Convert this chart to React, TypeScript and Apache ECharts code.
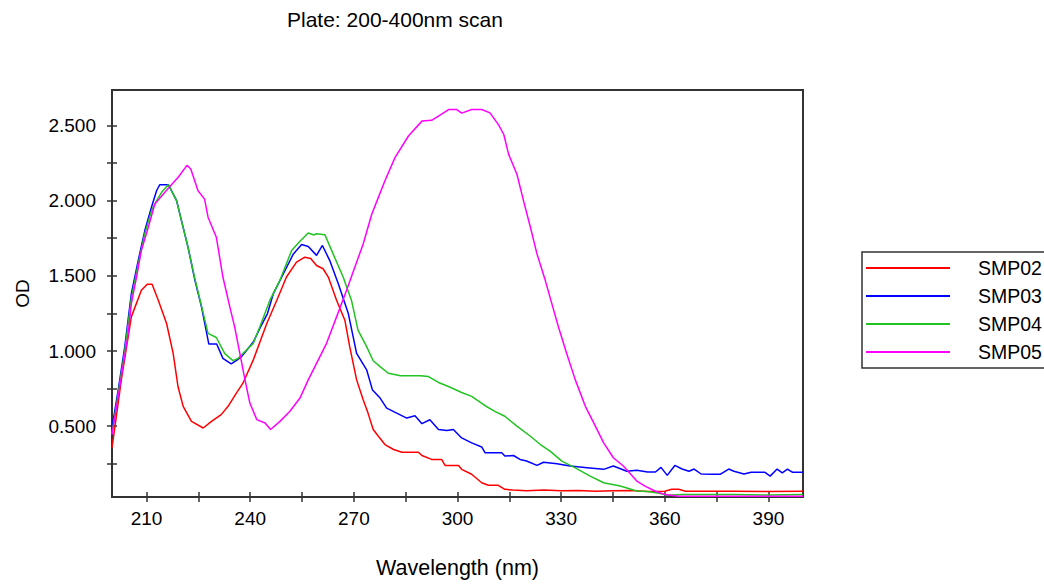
import React, { useEffect, useRef } from "react";
import * as echarts from "echarts";

const titleText = "Plate: 200-400nm scan";
const xName = "Wavelength (nm)";
const yName = "OD";
const seriesNames = ["SMP02", "SMP03", "SMP04", "SMP05"];
const seriesColors = ["#ff0000", "#0000ff", "#22c322", "#ff00ff"];

const xTicks = [210, 225, 240, 255, 270, 285, 300, 315, 330, 345, 360, 375, 390];
const xLabels = [210, 240, 270, 300, 330, 360, 390];
const yTicks = [0.25, 0.5, 0.75, 1.0, 1.25, 1.5, 1.75, 2.0, 2.25, 2.5];
const yLabels = [0.5, 1.0, 1.5, 2.0, 2.5];

const smp02: [number, number][] = [
  [200, 0.356], [202.7, 0.808], [205.6, 1.227], [208.5, 1.404], [210.2, 1.444], [211.6, 1.444],
  [213.4, 1.338], [215.8, 1.183], [217.7, 0.984], [219.1, 0.764], [220.6, 0.632], [223, 0.532],
  [226.4, 0.488], [228.8, 0.532], [231.6, 0.577], [233.6, 0.632], [236, 0.72], [237.9, 0.786],
  [240.9, 0.941], [244.8, 1.183], [247.7, 1.338], [250.5, 1.492], [253.4, 1.591], [255.8, 1.624],
  [257.5, 1.615], [259.2, 1.569], [261.1, 1.547], [262.6, 1.492], [265, 1.338], [267.4, 1.205],
  [268.8, 1.029], [270.8, 0.808], [272.7, 0.676], [274.1, 0.587], [275.6, 0.478], [277.1, 0.433],
  [279, 0.378], [281.5, 0.345], [283.9, 0.327], [288.7, 0.327], [289.7, 0.305], [292.5, 0.279],
  [295.4, 0.279], [296.4, 0.239], [300.3, 0.239], [301.2, 0.213], [304.1, 0.18], [307, 0.124],
  [308.9, 0.107], [311.8, 0.107], [313.7, 0.08], [316, 0.075], [320, 0.07], [325, 0.075],
  [330, 0.07], [335, 0.072], [340, 0.068], [345, 0.07], [350, 0.072], [355, 0.065], [360, 0.067],
  [362, 0.08], [364, 0.08], [366, 0.067], [380, 0.067], [390, 0.065], [400, 0.067],
];

const smp03: [number, number][] = [
  [200, 0.49], [201.8, 0.742], [203.7, 1.029], [205.6, 1.382], [207.6, 1.603], [209.5, 1.801],
  [211.4, 1.955], [212.9, 2.066], [213.8, 2.106], [216.3, 2.106], [218.7, 2.0], [220.1, 1.867],
  [222, 1.691], [224, 1.47], [225.9, 1.294], [227.8, 1.073], [228, 1.047], [230.3, 1.047],
  [232.1, 0.951], [234.5, 0.914], [236.5, 0.945], [237.5, 0.963], [240.9, 1.06], [243, 1.16],
  [245, 1.249], [246.7, 1.382], [249.6, 1.514], [252.5, 1.646], [254.9, 1.708], [256.8, 1.695],
  [259.2, 1.636], [260.9, 1.702], [263, 1.603], [265.5, 1.448], [268.4, 1.249], [270.8, 0.984],
  [273.7, 0.875], [275.4, 0.74], [277.6, 0.687], [279.5, 0.62], [282.4, 0.587], [285.3, 0.554],
  [287.7, 0.569], [289.7, 0.517], [292, 0.543], [294.5, 0.478], [296.9, 0.472], [298.8, 0.478],
  [301.2, 0.422], [304.1, 0.389], [307, 0.362], [308, 0.323], [312.8, 0.323], [313.7, 0.301],
  [316.2, 0.305], [318.1, 0.279], [320, 0.268], [323, 0.239], [324.9, 0.26], [328.8, 0.25],
  [332.6, 0.235], [337.5, 0.224], [342.3, 0.213], [345.1, 0.235], [349, 0.2], [351.9, 0.207],
  [355, 0.195], [357.3, 0.195], [358.9, 0.226], [360.7, 0.173], [362.9, 0.239], [365, 0.215],
  [367, 0.2], [368.5, 0.215], [370.5, 0.182], [374, 0.18], [376, 0.18], [378.5, 0.215],
  [380, 0.2], [382.9, 0.182], [385, 0.193], [389, 0.193], [390.5, 0.168], [392.5, 0.215],
  [394, 0.19], [395.5, 0.215], [397, 0.193], [400, 0.193],
];

const smp04: [number, number][] = [
  [200, 0.45], [201.8, 0.72], [203.7, 1.0], [205.6, 1.35], [207.6, 1.58], [209.5, 1.78],
  [211.4, 1.93], [212.9, 2.0], [214.5, 2.06], [216.3, 2.106], [218.7, 2.0], [220.1, 1.867],
  [222, 1.69], [224, 1.48], [225.9, 1.3], [227.8, 1.117], [230.2, 1.09], [232.6, 0.984],
  [235, 0.936], [236.5, 0.951], [237.9, 0.984], [240.9, 1.051], [242.8, 1.161], [245.7, 1.338],
  [248.6, 1.47], [252, 1.669], [254.4, 1.73], [256.8, 1.785], [258.5, 1.772], [259.2, 1.78],
  [261.6, 1.774], [264, 1.646], [266.9, 1.492], [269.3, 1.338], [271.2, 1.139], [273.7, 1.029],
  [275.6, 0.935], [277.6, 0.896], [280, 0.852], [283.5, 0.835], [289.3, 0.835], [291.6, 0.83],
  [294.5, 0.791], [297.4, 0.764], [301.2, 0.724], [304.1, 0.698], [308, 0.636], [310.8, 0.599],
  [313.7, 0.566], [317.2, 0.5], [321.1, 0.433], [324, 0.378], [326.8, 0.334], [330.2, 0.268],
  [334.1, 0.223], [338.4, 0.168], [342.3, 0.124], [347.1, 0.102], [351.9, 0.069], [355, 0.065],
  [358, 0.056], [361, 0.04], [365, 0.045], [380, 0.045], [390, 0.042], [400, 0.045],
];

const smp05: [number, number][] = [
  [200, 0.444], [202.7, 0.83], [204.7, 1.117], [205.6, 1.315], [207.1, 1.492], [208.5, 1.669],
  [210.5, 1.823], [212.4, 1.977], [214.8, 2.043], [217.2, 2.106], [219.1, 2.154], [221.7, 2.235],
  [222.8, 2.21], [224.9, 2.066], [226.8, 2.01], [227.8, 1.89], [230.2, 1.757], [232.1, 1.492],
  [234.1, 1.294], [235.5, 1.161], [237, 0.984], [238.5, 0.808], [239.9, 0.654], [241.9, 0.544],
  [244.3, 0.521], [245.9, 0.478], [248.6, 0.532], [251.5, 0.599], [254.4, 0.687], [256.8, 0.808],
  [259.2, 0.918], [262.1, 1.051], [265, 1.227], [267.9, 1.404], [270.3, 1.558], [272.7, 1.712],
  [275.2, 1.911], [277.1, 2.022], [279, 2.132], [281.9, 2.286], [285.8, 2.43], [289.7, 2.529],
  [292.5, 2.534], [294.5, 2.562], [297.4, 2.606], [299.8, 2.606], [301.2, 2.582], [304.1, 2.606],
  [307, 2.606], [309.4, 2.584], [311.8, 2.507], [313.4, 2.44], [314.8, 2.308], [317.2, 2.176],
  [319.1, 2.0], [321.1, 1.823], [323, 1.646], [325.4, 1.47], [327.3, 1.315], [329.2, 1.161],
  [331.6, 0.984], [334.1, 0.808], [337, 0.632], [339.9, 0.5], [342.3, 0.389], [345.1, 0.29],
  [348, 0.235], [351.9, 0.135], [354.4, 0.1], [357.3, 0.067], [360.2, 0.045], [364, 0.034],
  [400, 0.034],
];

const seriesData = [smp02, smp03, smp04, smp05];

const FONT = "Liberation Sans, Arial, sans-serif";

export default function App() {
  const ref = useRef<HTMLDivElement>(null);
  useEffect(() => {
    document.body.style.margin = "0";
    const chart = echarts.init(ref.current!, null, { renderer: "svg" });
    const axisColor = "#333";
    const baseX = {
      type: "value",
      min: 200,
      max: 400,
      position: "bottom",
      splitLine: { show: false },
    };
    const baseY = {
      type: "value",
      min: 0.029,
      max: 2.736,
      position: "left",
      splitLine: { show: false },
    };
    chart.setOption({
      animation: false,
      backgroundColor: "#fff",
      title: {
        text: titleText,
        left: 287,
        top: 9,
        padding: 0,
        textStyle: { fontFamily: FONT, fontSize: 21, fontWeight: "normal", color: "#000" },
      },
      grid: {
        left: 112,
        right: 241,
        top: 90,
        bottom: 85,
        show: true,
        borderColor: axisColor,
        borderWidth: 2,
        backgroundColor: "transparent",
      },
      legend: {
        orient: "vertical",
        left: 862,
        top: 252,
        data: seriesNames,
        icon: "rect",
        itemWidth: 84,
        itemHeight: 2,
        itemGap: 8,
        padding: [6, 14, 6, 4],
        borderColor: axisColor,
        borderWidth: 1.5,
        textStyle: {
          fontFamily: FONT,
          fontSize: 19.5,
          color: "#000",
          lineHeight: 20,
          padding: [0, 0, 0, 23],
        },
      },
      xAxis: [
        {
          ...baseX,
          name: xName,
          nameLocation: "middle",
          nameGap: 60,
          nameTextStyle: { fontFamily: FONT, fontSize: 21.5, color: "#000" },
          axisLine: { show: true, onZero: false, lineStyle: { color: axisColor, width: 2 } },
          axisTick: { show: true, inside: false, length: 5, customValues: xTicks, lineStyle: { color: axisColor, width: 1.5 } },
          axisLabel: {
            customValues: xLabels,
            margin: 12,
            fontFamily: FONT,
            fontSize: 19,
            color: "#000",
          },
        },
        {
          ...baseX,
          axisLine: { show: false },
          axisTick: { show: true, inside: true, length: 5, customValues: xTicks, lineStyle: { color: axisColor, width: 1.5 } },
          axisLabel: { show: false },
        },
      ],
      yAxis: [
        {
          ...baseY,
          name: yName,
          nameLocation: "middle",
          nameGap: 80,
          nameRotate: 90,
          nameTextStyle: { fontFamily: FONT, fontSize: 19, color: "#000" },
          axisLine: { show: true, onZero: false, lineStyle: { color: axisColor, width: 2 } },
          axisTick: { show: true, inside: false, length: 5, customValues: yTicks, lineStyle: { color: axisColor, width: 1.5 } },
          axisLabel: {
            customValues: yLabels,
            margin: 16,
            fontFamily: FONT,
            fontSize: 19,
            color: "#000",
            formatter: (v: number) => v.toFixed(3),
          },
        },
        {
          ...baseY,
          axisLine: { show: false },
          axisTick: { show: true, inside: true, length: 5, customValues: yTicks, lineStyle: { color: axisColor, width: 1.5 } },
          axisLabel: { show: false },
        },
      ],
      series: seriesNames.map((name, i) => ({
        name,
        type: "line",
        xAxisIndex: 0,
        yAxisIndex: 0,
        data: seriesData[i],
        showSymbol: false,
        symbol: "none",
        color: seriesColors[i],
        itemStyle: { color: seriesColors[i] },
        lineStyle: { color: seriesColors[i], width: 1.5 },
        clip: true,
      })),
    });
    return () => chart.dispose();
  }, []);
  return <div ref={ref} style={{ width: 1044, height: 584 }} />;
}
